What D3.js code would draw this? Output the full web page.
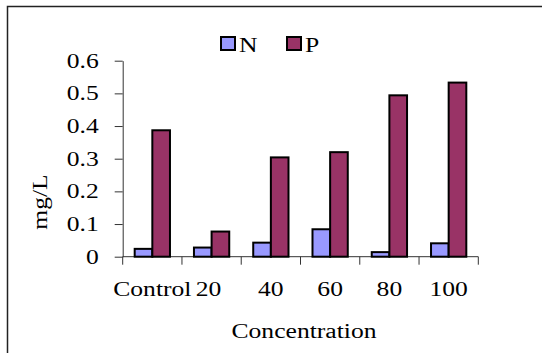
<!DOCTYPE html>
<html>
<head>
<meta charset="utf-8">
<script src="https://cdn.jsdelivr.net/npm/d3@7"></script>
</head>
<body style="margin:0;background:#fff">
<svg id="chart" width="542" height="353"></svg>
<script>
let categories = ["Control", "20", "40", "60", "80", "100"];
let seriesNames = ["N", "P"];
let nValues = [0.024, 0.028, 0.043, 0.084, 0.014, 0.041];
let pValues = [0.387, 0.077, 0.304, 0.32, 0.494, 0.533];
let yTicks = [0, 0.1, 0.2, 0.3, 0.4, 0.5, 0.6];
let colors = {N: "#9999ff", P: "#993366"};

let fontFamily = "'Liberation Serif'";
let stretch = 1.28; // the picture's text is wider than plain Times
let svg = d3.select("#chart");

function serif(sel) {
  return sel.style("font-family", fontFamily).style("font-size", "20px").attr("fill", "#000");
}

// outer frame
svg.append("rect")
  .attr("x", 7.5).attr("y", 6.5)
  .attr("width", 560).attr("height", 370)
  .attr("fill", "none")
  .attr("stroke", "#222")
  .attr("stroke-width", 1.5);

let x = d3.scaleBand().domain(categories).range([122.7, 478.3]);
let xSub = d3.scaleBand().domain(seriesNames).range([0, x.bandwidth()]).paddingOuter(0.68);
let y = d3.scaleLinear().domain([0, 0.6]).range([256.7, 60.7]);

let rows = categories.map(function(c, i) { return {cat: c, N: nValues[i], P: pValues[i]}; });

// y axis
let yAxis = svg.append("g")
  .attr("transform", "translate(" + x.range()[0] + ",0)")
  .call(d3.axisLeft(y).tickValues(yTicks).tickSize(8).tickSizeOuter(0)
    .tickFormat(function(d) { return d === 0 ? "0" : d3.format(".1f")(d); }));
yAxis.select(".domain").attr("stroke", "#333");
yAxis.selectAll(".tick line").attr("stroke", "#333");
yAxis.selectAll(".tick text")
  .attr("x", -24 / stretch)
  .attr("transform", "scale(" + stretch + ",1)")
  .call(serif);

// x axis
let xAxis = svg.append("g")
  .attr("transform", "translate(0," + y(0) + ")");
xAxis.append("line")
  .attr("x1", x.range()[0]).attr("x2", x.range()[1])
  .attr("stroke", "#333");
xAxis.selectAll("line.tk")
  .data(categories.concat(["end"]))
  .join("line")
  .attr("class", "tk")
  .attr("x1", function(d, i) { return x.range()[0] + i * x.step(); })
  .attr("x2", function(d, i) { return x.range()[0] + i * x.step(); })
  .attr("y1", 0).attr("y2", 8)
  .attr("stroke", "#333");
xAxis.selectAll("text")
  .data(categories)
  .join("text")
  .attr("transform", function(d) {
    return "translate(" + (x(d) + x.bandwidth() / 2 - (d === "20" ? 3 : 0)) + ",39) scale(" + stretch + ",1)";
  })
  .attr("text-anchor", "middle")
  .text(function(d) { return d; })
  .call(serif);

// bars
let groups = svg.append("g").selectAll("g")
  .data(rows)
  .join("g")
  .attr("transform", function(d) { return "translate(" + x(d.cat) + ",0)"; });
groups.selectAll("rect")
  .data(function(d) { return seriesNames.map(function(s) { return {key: s, value: d[s]}; }); })
  .join("rect")
  .attr("x", function(d) { return xSub(d.key); })
  .attr("y", function(d) { return y(d.value); })
  .attr("width", xSub.bandwidth())
  .attr("height", function(d) { return y(0) - y(d.value); })
  .attr("fill", function(d) { return colors[d.key]; })
  .attr("stroke", "#000")
  .attr("stroke-width", 2);

// axis titles
svg.append("text")
  .attr("transform", "translate(304,338) scale(" + stretch + ",1)")
  .attr("text-anchor", "middle")
  .text("Concentration")
  .call(serif);
svg.append("text")
  .attr("transform", "translate(47,202) rotate(-90) scale(" + stretch + ",1)")
  .attr("text-anchor", "middle")
  .text("mg/L")
  .call(serif);

// legend
let legendX = [221, 287];
let legend = svg.append("g").selectAll("g")
  .data(seriesNames)
  .join("g")
  .attr("transform", function(d, i) { return "translate(" + legendX[i] + ",37)"; });
legend.append("rect")
  .attr("width", 14).attr("height", 13)
  .attr("fill", function(d) { return colors[d]; })
  .attr("stroke", "#000")
  .attr("stroke-width", 2);
legend.append("text")
  .attr("transform", "translate(18,15) scale(" + stretch + ",1)")
  .text(function(d) { return d; })
  .call(serif);
</script>
</body>
</html>
